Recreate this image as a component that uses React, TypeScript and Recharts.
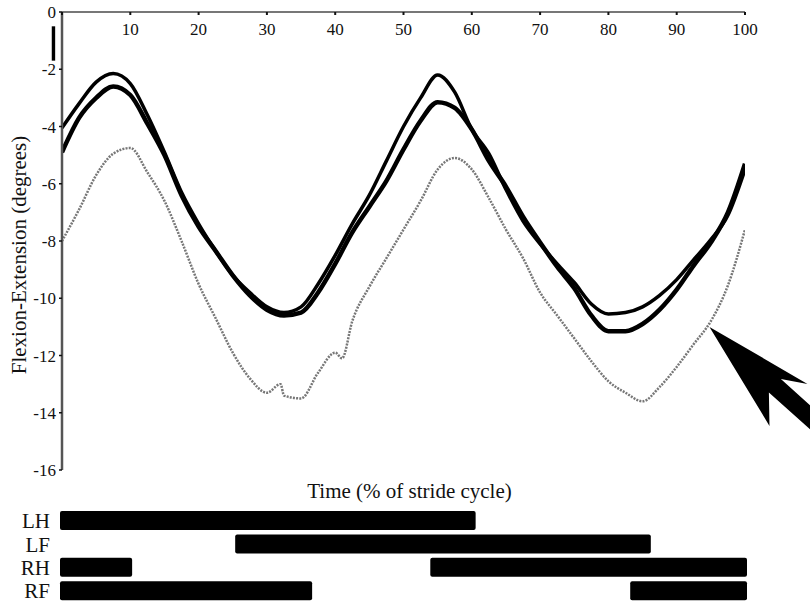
import { LineChart, Line, XAxis, YAxis, BarChart, Bar, ReferenceArea, ReferenceDot } from 'recharts'

const SERIF = "'Liberation Serif', 'Times New Roman', serif"

// stride cycle (%) sample points for the two black traces
const blackTime = [0, 2.5, 5, 7.5, 10, 12.5, 15, 17.5, 20, 22.5, 25, 27.5, 30, 32.5, 35, 37.5, 40, 42.5, 45, 47.5, 50, 52.5, 55, 57.5, 60, 62.5, 65, 67.5, 70, 72.5, 75, 77.5, 80, 82.5, 85, 87.5, 90, 92.5, 95, 97.5, 100]
const blackUpper = [-4.05, -3.2, -2.45, -2.15, -2.5, -3.6, -4.9, -6.3, -7.4, -8.35, -9.2, -9.8, -10.3, -10.5, -10.3, -9.5, -8.5, -7.4, -6.4, -5.2, -4.0, -3.0, -2.2, -2.8, -4.1, -4.95, -6.2, -7.3, -8.1, -8.8, -9.45, -10.2, -10.55, -10.5, -10.3, -9.9, -9.35, -8.65, -7.95, -7.1, -5.5]
const blackLower = [-4.9, -3.7, -3.0, -2.6, -2.9, -3.9, -5.0, -6.4, -7.5, -8.35, -9.2, -9.9, -10.4, -10.6, -10.5, -9.8, -8.8, -7.7, -6.8, -5.9, -4.8, -3.8, -3.15, -3.35, -4.1, -5.2, -6.1, -7.15, -8.05, -8.9, -9.65, -10.6, -11.15, -11.15, -10.9, -10.4, -9.7, -8.85, -8.05, -7.0, -5.3]

// grey (dotted) trace
const greyTime = [0, 2.5, 5, 7.5, 10, 12.5, 15, 17.5, 20, 22.5, 25, 27.5, 30, 32, 32.5, 35, 37.5, 40, 41, 42.5, 45, 47.5, 50, 52.5, 55, 57.5, 60, 62.5, 65, 67.5, 70, 72.5, 75, 77.5, 80, 82.5, 85, 87.5, 90, 92.5, 95, 97.5, 100]
const greyValues = [-8.0, -6.9, -5.7, -4.95, -4.75, -5.6, -6.6, -8.0, -9.5, -10.7, -11.9, -12.8, -13.3, -13.0, -13.4, -13.5, -12.6, -11.9, -12.1, -10.8, -9.6, -8.6, -7.6, -6.6, -5.5, -5.1, -5.5, -6.5, -7.6, -8.6, -9.8, -10.6, -11.4, -12.2, -12.9, -13.3, -13.6, -13.1, -12.4, -11.6, -10.8, -9.55, -7.6]

const xTicks = [0, 10, 20, 30, 40, 50, 60, 70, 80, 90, 100]
const yTicks = [0, -2, -4, -6, -8, -10, -12, -14, -16]

// footfall (stance) bars
const limbs = ['LH', 'LF', 'RH', 'RF']
const stanceFirst: [number, number][] = [[0, 60.5], [25.5, 86], [0, 10.5], [0, 36.7]]
const stanceSecond: ([number, number] | null)[] = [null, null, [53.9, 100], [83, 100]]

const blackData = blackTime.map((t, i) => ({ t, upper: blackUpper[i], lower: blackLower[i] }))
const greyData = greyTime.map((t, i) => ({ t, grey: greyValues[i] }))
const gaitData = limbs.map((name, i) => ({ name, first: stanceFirst[i], second: stanceSecond[i] }))

function TopTick(props: any) {
  const { x, y, payload } = props
  return (
    <g>
      <line x1={x} y1={y} x2={x} y2={y + 3} stroke="#111" strokeWidth={2} />
      {payload.value !== 0 && (
        <text x={x} y={y + 23} textAnchor="middle" fontSize={17} fontFamily={SERIF} fill="#111">
          {payload.value}
        </text>
      )}
    </g>
  )
}

function XTitle(props: any) {
  const { viewBox } = props
  const cx = viewBox.x + viewBox.width / 2 + 6
  return (
    <text x={cx} y={498} textAnchor="middle" fontSize={21} fontFamily={SERIF} fill="#111">
      Time (% of stride cycle)
    </text>
  )
}

function YTitle(props: any) {
  const { viewBox } = props
  const cx = 19
  const cy = viewBox.y + viewBox.height / 2 + 14
  return (
    <text x={cx} y={cy} transform={`rotate(-90 ${cx} ${cy})`} textAnchor="middle" dominantBaseline="central" fontSize={21} fontFamily={SERIF} fill="#111">
      Flexion-Extension (degrees)
    </text>
  )
}

// big pointer arrow, tip sits on the grey trace
function Pointer(props: any) {
  const { cx, cy } = props
  const pts = [[0, 0], [98, 57], [71.4, 52.2], [125, 100.3], [113, 113.7], [59.4, 65.6], [60, 99]]
  return <polygon points={pts.map(([dx, dy]) => `${cx + dx},${cy + dy}`).join(' ')} fill="#000" />
}

export default function App() {
  return (
    <div style={{ position: 'absolute', left: 0, top: 0, width: 810, height: 605, background: '#fff', fontFamily: SERIF }}>
      <div style={{ position: 'absolute', left: 0, top: 0 }}>
        <LineChart width={810} height={505} margin={{ top: 0, right: 65, bottom: 35, left: 0 }}>
          <XAxis
            type="number"
            dataKey="t"
            orientation="top"
            domain={[0, 100]}
            ticks={xTicks}
            interval={0}
            height={12}
            tickSize={0}
            tickMargin={0}
            tick={<TopTick />}
            axisLine={{ stroke: '#777', strokeWidth: 2 }}
            allowDataOverflow
            label={<XTitle />}
          />
          <YAxis
            type="number"
            domain={[-16, 0]}
            ticks={yTicks}
            interval={0}
            width={62}
            tickSize={3}
            tickMargin={3}
            tick={{ fontSize: 17, fontFamily: SERIF, fill: '#111' }}
            tickLine={{ stroke: '#111', strokeWidth: 1.5 }}
            axisLine={{ stroke: '#555', strokeWidth: 2.5 }}
            label={<YTitle />}
          />
          <ReferenceArea x1={-1.5} x2={-1.0} y1={-0.5} y2={-1.7} ifOverflow="visible" fill="#000" fillOpacity={1} stroke="none" />
          <Line data={greyData} dataKey="grey" type="monotone" stroke="#777" strokeWidth={2.5} strokeDasharray="2 1.2" dot={false} isAnimationActive={false} />
          <Line data={blackData} dataKey="lower" type="monotone" stroke="#000" strokeWidth={4.5} dot={false} isAnimationActive={false} />
          <Line data={blackData} dataKey="upper" type="monotone" stroke="#000" strokeWidth={3.5} dot={false} isAnimationActive={false} />
          <ReferenceDot x={94.8} y={-11} ifOverflow="visible" shape={<Pointer />} />
        </LineChart>
      </div>
      <div style={{ position: 'absolute', left: 0, top: 505 }}>
        <BarChart width={810} height={100} layout="vertical" data={gaitData} margin={{ top: 4, right: 63, bottom: 2.4, left: 0 }}>
          <XAxis type="number" domain={[0, 100]} hide />
          <YAxis
            yAxisId="a"
            type="category"
            dataKey="name"
            width={60}
            interval={0}
            tickSize={0}
            tickMargin={10}
            axisLine={false}
            tick={{ fontSize: 21, fontFamily: SERIF, fill: '#111' }}
          />
          <YAxis yAxisId="b" type="category" dataKey="name" hide />
          <Bar yAxisId="a" dataKey="first" fill="#000" barSize={19} radius={2} isAnimationActive={false} />
          <Bar yAxisId="b" dataKey="second" fill="#000" barSize={19} radius={2} isAnimationActive={false} />
        </BarChart>
      </div>
    </div>
  )
}
